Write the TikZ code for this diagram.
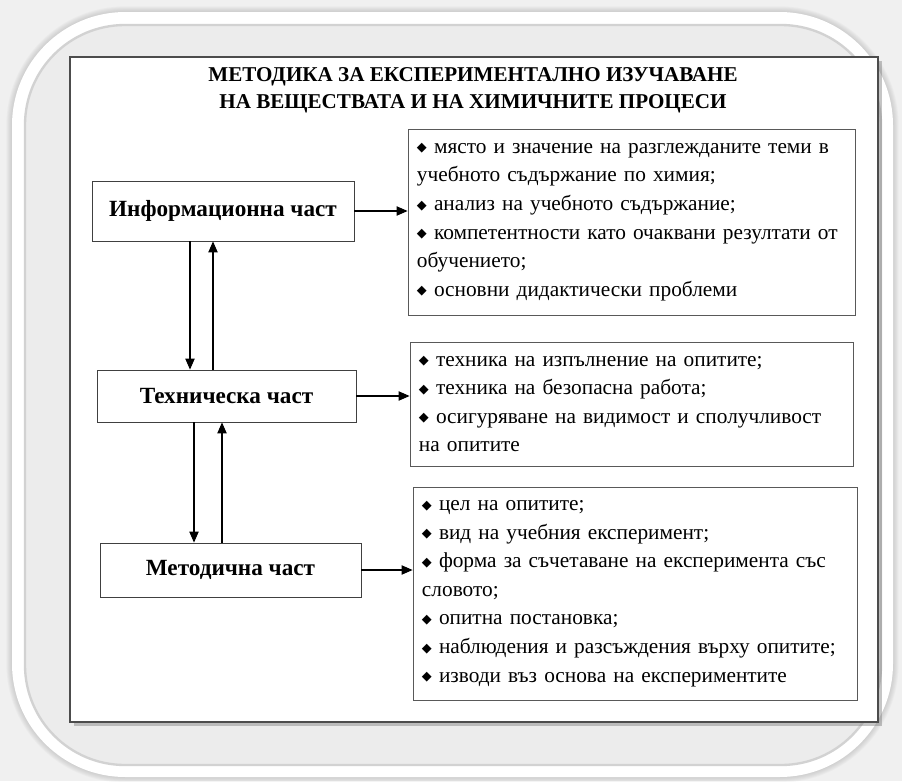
\documentclass[tikz,border=0pt]{standalone}
\usepackage{fontspec}
\setmainfont{Liberation Serif}
\newfontfamily\symfont{DejaVu Sans}
\usetikzlibrary{arrows.meta,shadows}
\newcommand{\bul}{{\symfont\fontsize{11}{11}\selectfont\raisebox{0.2ex}{◆}}\ }

\begin{document}
\begin{tikzpicture}[x=0.03cm,y=-0.03cm,
  >={Triangle[length=3.3mm,width=2.8mm]},
  part/.style={draw=black!75,line width=0.7pt,fill=white,font=\fontsize{19.8}{22}\selectfont\bfseries},
  lst/.style={draw=black!65,line width=0.7pt,fill=white,align=left,inner xsep=0.27cm,font=\fontsize{18.2}{24.4}\selectfont},
  link/.style={->,line width=0.9pt},
  capt/.style={font=\fontsize{18}{23}\selectfont\bfseries,align=center}]

  \useasboundingbox (0,0) rectangle (902,781);
  % decorative frame
  \fill[gray!12] (0,0) rectangle (902,781);
  \foreach \k in {1,...,6}
    \draw[gray!70,opacity=0.08,line width=\k*1.6pt,rounded corners=3.4cm] (12,12) rectangle (893,777);
  \fill[white,rounded corners=3.4cm] (12,12) rectangle (893,777);
  \draw[gray!35,line width=2pt,fill=gray!15,rounded corners=3cm] (25,25) rectangle (881,765);
  \draw[black!70,line width=1pt,fill=white,
    drop shadow={shadow xshift=3pt,shadow yshift=-3pt,opacity=0.45}] (70,57) rectangle (878,722);

  \node[capt] (title) at (473,90) {МЕТОДИКА ЗА ЕКСПЕРИМЕНТАЛНО ИЗУЧАВАНЕ\\НА ВЕЩЕСТВАТА И НА ХИМИЧНИТЕ ПРОЦЕСИ};

  % parts
  \node[part,minimum width=7.86cm,minimum height=1.8cm] (info) at (223,211) {Информационна част};
  \node[part,minimum width=7.77cm,minimum height=1.56cm] (tech) at (226.5,396) {Техническа част};
  \node[part,minimum width=7.83cm,minimum height=1.62cm] (meth) at (230.5,570) {Методична част};

  % lists
  \node[lst,text width=12.87cm,minimum height=5.58cm] (l1) at (631.5,222)
    {\bul място и значение на разглежданите теми в\\учебното съдържание по химия;\\\bul анализ на учебното съдържание;\\\bul компетентности като очаквани резултати от\\обучението;\\\bul основни дидактически проблеми};
  \node[lst,text width=12.75cm,minimum height=3.72cm] (l2) at (631.5,404)
    {\bul техника на изпълнение на опитите;\\\bul техника на безопасна работа;\\\bul осигуряване на видимост и сполучливост\\на опитите};
  \node[lst,text width=12.78cm,minimum height=6.39cm] (l3) at (635,593.5)
    {\bul цел на опитите;\\\bul вид на учебния експеримент;\\\bul форма за съчетаване на експеримента със\\словото;\\\bul опитна постановка;\\\bul наблюдения и разсъждения върху опитите;\\\bul изводи въз основа на експериментите};

  \draw[link] (info.east) -- (info.east -| l1.west);
  \draw[link] (tech.east) -- (tech.east -| l2.west);
  \draw[link] (meth.east) -- (meth.east -| l3.west);

  \draw[link] ([xshift=-0.99cm]info.south) -- ([xshift=-0.99cm]info.south |- tech.north);
  \draw[link] ([xshift=-0.3cm]info.south |- tech.north) -- ([xshift=-0.3cm]info.south);
  \draw[link] ([xshift=-0.975cm]tech.south) -- ([xshift=-0.975cm]tech.south |- meth.north);
  \draw[link] ([xshift=-0.135cm]tech.south |- meth.north) -- ([xshift=-0.135cm]tech.south);
\end{tikzpicture}
\end{document}
